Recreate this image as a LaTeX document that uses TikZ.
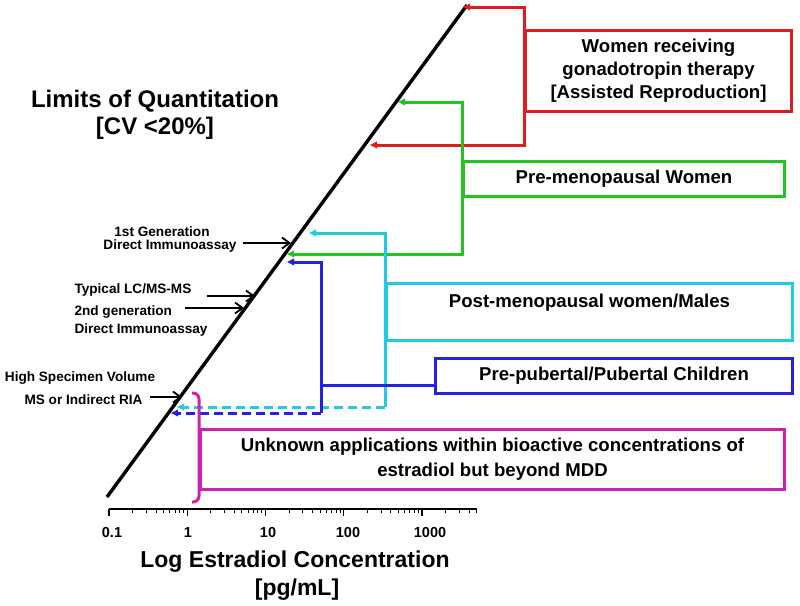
\documentclass[tikz,border=0pt]{standalone}
\usepackage{fontspec}
\setmainfont{Liberation Sans}
\usetikzlibrary{arrows.meta,calc}
\definecolor{cred}{RGB}{224,28,28}
\definecolor{cgreen}{RGB}{34,196,34}
\definecolor{ccyan}{RGB}{34,204,222}
\definecolor{cblue}{RGB}{34,34,224}
\definecolor{cmag}{RGB}{204,34,180}
\begin{document}
\begin{tikzpicture}[x=1pt,y=-1pt,
  bigt/.style={font=\fontsize{24}{27}\selectfont\bfseries, align=center},
  axt/.style={font=\fontsize{23}{28}\selectfont\bfseries, align=center},
  boxt/.style={font=\fontsize{18.6}{23}\selectfont\bfseries, align=center},
  smallt/.style={font=\fontsize{13.6}{16}\selectfont\bfseries},
  tickt/.style={font=\fontsize{14.5}{17}\selectfont\bfseries},
  cbox/.style={draw=#1, line width=3pt, inner sep=0pt, anchor=north west},
  conn/.style={draw=#1, line width=3pt},
  tipend/.style={-{Triangle[length=7pt,width=6.5pt]}},
  tipstart/.style={{Triangle[length=7pt,width=6.5pt]}-},
  tipboth/.style={{Triangle[length=7pt,width=6.5pt]}-{Triangle[length=7pt,width=6.5pt]}},
  dashline/.style={dash pattern=on 9pt off 5pt},
  blkarrow/.style={draw=black, line width=1.8pt, -{Straight Barb[length=7.5pt,width=11pt]}},
]
\useasboundingbox (0,0) rectangle (800,605);

% main diagonal line
\coordinate (L0) at (107,497);
\coordinate (L1) at (467,5);
\draw[line width=3.4pt] (L0) -- (L1);

% title
\node[bigt] (title) at (155,115) {Limits of Quantitation\\{[CV <20\%]}};

% boxes
\node[cbox=cred, minimum width=266, minimum height=81, boxt] (redbox) at (524,29)
  {Women receiving\\gonadotropin therapy\\{[Assisted Reproduction]}};
\node[cbox=cgreen, minimum width=321, minimum height=35, boxt] (greenbox) at (462,160)
  {Pre-menopausal Women};
\node[cbox=ccyan, minimum width=406, minimum height=57, boxt] (cyanbox) at (385,282)
  {Post-menopausal women/Males\\[0pt]\mbox{}};
\node[cbox=cblue, minimum width=357, minimum height=35, boxt] (bluebox) at (434,357)
  {Pre-pubertal/Pubertal Children};
\node[cbox=cmag, minimum width=584, minimum height=60, boxt, font=\fontsize{18.6}{25}\selectfont\bfseries] (magbox) at (199,428)
  {Unknown applications within bioactive concentrations of\\estradiol but beyond MDD};

% arrow targets on the line
\coordinate (rt) at (463,7);
\coordinate (rb) at (370,145);
\coordinate (gt) at (398,102);
\coordinate (gb) at (287,254);
\coordinate (ct) at (309,233);
\coordinate (cc) at (385,407);
\coordinate (cb) at (177,407);
\coordinate (bt) at (287,262);
\coordinate (bc) at (321,413);
\coordinate (bj) at (321,385);
\coordinate (bb) at (171,413);

% red connector
\draw[conn=cred, tipboth] (rt) -| (redbox.west) |- (rb);
% green connector
\draw[conn=cgreen, tipboth] (gt) -| (greenbox.west) |- (gb);
% cyan connector
\draw[conn=ccyan, tipstart] (ct) -| (cc);
\draw[conn=ccyan, dashline, tipend] (cc) -- (cb);
% blue connector
\draw[conn=cblue, tipstart] (bt) -| (bc);
\draw[conn=cblue] (bluebox.west |- bj) -- (bj);
\draw[conn=cblue, dashline, tipend] (bc) -- (bb);

% magenta brace
\draw[conn=cmag, rounded corners=6pt] (192,393) -- (199,393) -- (199,502) -- (192,502);

% left labels
\node[smallt] (g1a) at (162,232) {1st Generation};
\node[smallt] (g1b) at (170,246) {Direct Immunoassay};
\coordinate (a1s) at (243,243);
\coordinate (a1e) at (291,243);
\draw[blkarrow] (a1s) -- (a1e);

\node[smallt, anchor=west] (lcms) at (71,290) {Typical LC/MS-MS};
\coordinate (a2s) at (207,296);
\coordinate (a2e) at (255,296);
\draw[blkarrow] (a2s) -- (a2e);

\node[smallt, anchor=west] (g2a) at (71,312) {2nd generation};
\node[smallt, anchor=west] (g2b) at (71,330) {Direct Immunoassay};
\coordinate (a3s) at (185,308);
\coordinate (a3e) at (244,308);
\draw[blkarrow] (a3s) -- (a3e);

\node[smallt] (hs1) at (80,378) {High Specimen Volume};
\node[smallt] (hs2) at (83.5,400) {MS or Indirect RIA};
\coordinate (a4s) at (150,397);
\coordinate (a4e) at (182,397);
\draw[blkarrow] (a4s) -- (a4e);

% axis
\coordinate (ax0) at (109,509);
\coordinate (ax1) at (477,509);
\draw[line width=2.2pt] (ax0) -- (ax1);
\foreach \d in {0,...,4} {
  \draw[line width=1.4pt] (109+78.25*\d,509) -- (109+78.25*\d,515.5);
}
\foreach \d in {0,...,3} {
  \foreach \m in {2,...,9} {
    \pgfmathsetmacro\xx{109+78.25*(\d+log10(\m))}
    \draw[line width=1.1pt] (\xx,509) -- (\xx,513);
  }
}
\foreach \m in {2,...,5} {
  \pgfmathsetmacro\xx{109+78.25*(4+log10(\m))}
  \draw[line width=1.1pt] (\xx,509) -- (\xx,513);
}
\node[tickt] (t0) at (112,533) {0.1};
\node[tickt] (t1) at (188,533) {1};
\node[tickt] (t2) at (268,533) {10};
\node[tickt] (t3) at (348,533) {100};
\node[tickt] (t4) at (430,533) {1000};

\node[axt] (axl1) at (295,562) {Log Estradiol Concentration};
\node[axt] (axl2) at (297,590) {[pg/mL]};
\end{tikzpicture}
\end{document}
